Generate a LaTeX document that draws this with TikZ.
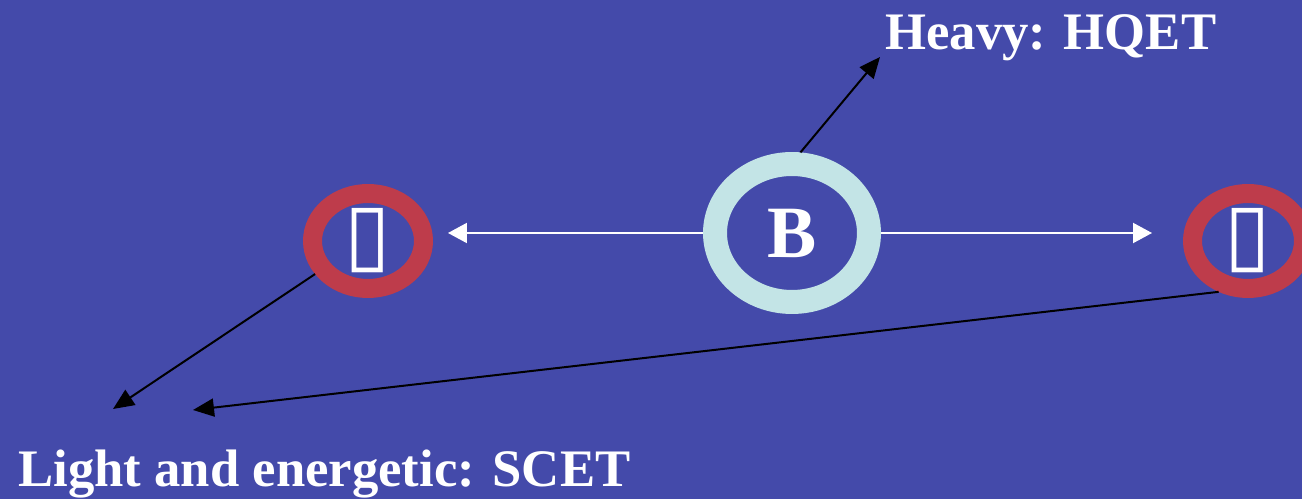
\documentclass[tikz,border=0pt]{standalone}
\usepackage{fontspec}
\setmainfont{Liberation Serif}
\newfontfamily\symbfont{DejaVu Sans}
\usepackage{tikz}
\usetikzlibrary{arrows.meta,positioning,shapes.geometric,calc}
\definecolor{SlideBlue}{HTML}{444AAA}
\definecolor{RingRed}{HTML}{BE3C4B}
\definecolor{RingCyan}{HTML}{C3E4E6}
\tikzset{
  redring/.style={ellipse,draw=RingRed,line width=0.38cm,minimum width=2.22cm,
              minimum height=1.9cm,inner sep=0pt,text=white,
              font=\symbfont\bfseries\fontsize{48}{48}\selectfont},
  cyanring/.style={ellipse,draw=RingCyan,line width=0.48cm,minimum width=3.08cm,
              minimum height=2.76cm,inner sep=0pt,text=white,
              font=\bfseries\fontsize{42}{42}\selectfont},
  label/.style={text=white,inner sep=0pt,font=\bfseries\fontsize{30}{34}\selectfont},
  whiteflow/.style={-{Triangle[length=0.38cm,width=0.4cm]},line width=0.04cm,draw=white},
  blackflow/.style={-{Triangle[length=0.42cm,width=0.36cm]},line width=0.04cm,draw=black}
}
\begin{document}
\begin{tikzpicture}[x=0.02cm,y=-0.02cm]
  \clip (0,0) rectangle (1302,499);
  \fill[SlideBlue] (0,0) rectangle (1302,499);
  \node[cyanring] (bmeson) at (792,233) {B};
  \node[redring] (pileft) at (368,241) {▯};
  \node[redring] (piright) at (1248,241) {▯};
  \node[label,anchor=base west] (hqet) at (885,50) {Heavy: HQET};
  \node[label,anchor=base west] (scet) at (18,487) {Light and energetic: SCET};
  \coordinate (hqettip) at (880,57);
  \coordinate (scettipa) at (113,409);
  \coordinate (scettipb) at (193,410);
  \draw[whiteflow,shorten >=0.3cm] (bmeson.west) -- (bmeson.west -| pileft.east);
  \draw[whiteflow,shorten >=0.62cm] (bmeson.east) -- (bmeson.east -| piright.west);
  \draw[blackflow] (bmeson.84) -- (hqettip);
  \draw[blackflow] (pileft.212) -- (scettipa);
  \draw[blackflow] (piright.240) -- (scettipb);
\end{tikzpicture}
\end{document}
